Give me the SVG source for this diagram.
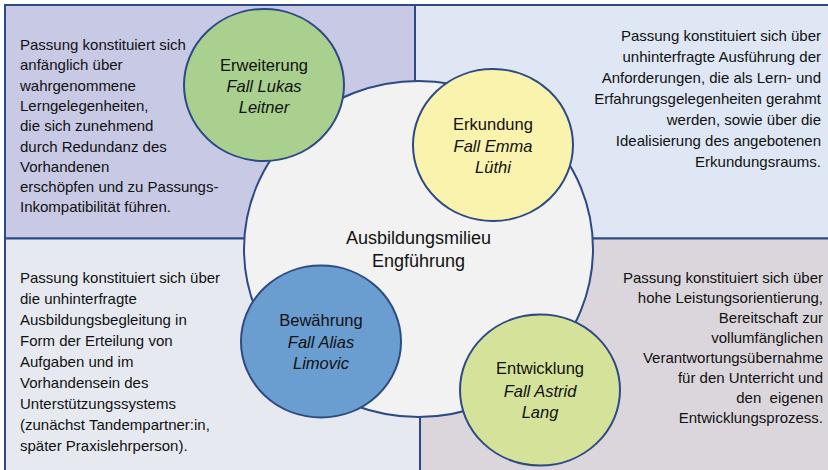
<svg xmlns="http://www.w3.org/2000/svg" width="828" height="470" viewBox="0 0 828 470">
<style>
.box{stroke:#2d4a85;stroke-width:2}
.circ{stroke:#2d4a85;stroke-width:2}
.t{font-family:"Liberation Sans",Arial,sans-serif;font-size:15px;fill:#111}
.r{text-anchor:end}
.lbl{font-family:"Liberation Sans",Arial,sans-serif;font-size:16.5px;fill:#111;text-anchor:middle}
.it{font-style:italic}
.ctr{font-family:"Liberation Sans",Arial,sans-serif;font-size:18px;fill:#111;text-anchor:middle}
</style>
<rect width="828" height="470" fill="#ffffff"/>
<g id="quadrant-top-left">
<rect class="box" x="5" y="5" width="410" height="233.5" fill="#c8c9e5"/>
<text class="t" x="20" y="50">Passung konstituiert sich</text>
<text class="t" x="20" y="70.3">anfänglich über</text>
<text class="t" x="20" y="90.6">wahrgenommene</text>
<text class="t" x="20" y="110.9">Lerngelegenheiten,</text>
<text class="t" x="20" y="131.2">die sich zunehmend</text>
<text class="t" x="20" y="151.5">durch Redundanz des</text>
<text class="t" x="20" y="171.8">Vorhandenen</text>
<text class="t" x="20" y="192.1">erschöpfen und zu Passungs-</text>
<text class="t" x="20" y="212.4">Inkompatibilität führen.</text>
</g>
<g id="quadrant-top-right">
<rect class="box" x="415" y="5" width="420" height="233.5" fill="#dfe7f4"/>
<text class="t r" x="821" y="40.7">Passung konstituiert sich über</text>
<text class="t r" x="821" y="61.7">unhinterfragte Ausführung der</text>
<text class="t r" x="821" y="82.7">Anforderungen, die als Lern- und</text>
<text class="t r" x="821" y="103.7">Erfahrungsgelegenheiten gerahmt</text>
<text class="t r" x="821" y="124.7">werden, sowie über die</text>
<text class="t r" x="821" y="145.7">Idealisierung des angebotenen</text>
<text class="t r" x="821" y="166.7">Erkundungsraums.</text>
</g>
<g id="quadrant-bottom-left">
<rect class="box" x="5" y="238.5" width="415" height="240" fill="#e6e9f0"/>
<text class="t" x="20" y="283.3">Passung konstituiert sich über</text>
<text class="t" x="20" y="304.3">die unhinterfragte</text>
<text class="t" x="20" y="325.3">Ausbildungsbegleitung in</text>
<text class="t" x="20" y="346.3">Form der Erteilung von</text>
<text class="t" x="20" y="367.3">Aufgaben und im</text>
<text class="t" x="20" y="388.3">Vorhandensein des</text>
<text class="t" x="20" y="409.3">Unterstützungssystems</text>
<text class="t" x="20" y="430.3">(zunächst Tandempartner:in,</text>
<text class="t" x="20" y="451.3">später Praxislehrperson).</text>
</g>
<g id="quadrant-bottom-right">
<rect class="box" x="420" y="238.5" width="420" height="240" fill="#dbd6db"/>
<text class="t r" x="823" y="283.3">Passung konstituiert sich über</text>
<text class="t r" x="823" y="303.3">hohe Leistungsorientierung,</text>
<text class="t r" x="823" y="323.3">Bereitschaft zur</text>
<text class="t r" x="823" y="343.3">vollumfänglichen</text>
<text class="t r" x="823" y="363.3">Verantwortungsübernahme</text>
<text class="t r" x="823" y="383.3">für den Unterricht und</text>
<text class="t r" x="823" y="403.3" style="white-space:pre">den  eigenen</text>
<text class="t r" x="823" y="423.3">Entwicklungsprozess.</text>
</g>
<g id="center-milieu">
<ellipse class="circ" cx="418.5" cy="249" rx="174.5" ry="168" fill="#f2f2f2"/>
<text class="ctr" x="418.5" y="244">Ausbildungsmilieu</text>
<text class="ctr" x="418.5" y="267">Engführung</text>
</g>
<g id="node-erweiterung">
<ellipse class="circ" cx="264" cy="85" rx="80" ry="76" fill="#a9d08e"/>
<text class="lbl" x="264" y="71">Erweiterung</text>
<text class="lbl it" x="264" y="92">Fall Lukas</text>
<text class="lbl it" x="264" y="113">Leitner</text>
</g>
<g id="node-erkundung">
<ellipse class="circ" cx="493" cy="145" rx="80" ry="76" fill="#faf3ad"/>
<text class="lbl" x="493" y="130">Erkundung</text>
<text class="lbl it" x="493" y="152">Fall Emma</text>
<text class="lbl it" x="493" y="173">Lüthi</text>
</g>
<g id="node-bewaehrung">
<ellipse class="circ" cx="321" cy="341.5" rx="80" ry="76" fill="#6a9dd0"/>
<text class="lbl" x="321" y="326">Bewährung</text>
<text class="lbl it" x="321" y="347.5">Fall Alias</text>
<text class="lbl it" x="321" y="369">Limovic</text>
</g>
<g id="node-entwicklung">
<ellipse class="circ" cx="540" cy="390" rx="80" ry="75.5" fill="#d4e29a"/>
<text class="lbl" x="540" y="374">Entwicklung</text>
<text class="lbl it" x="540" y="397">Fall Astrid</text>
<text class="lbl it" x="540" y="418">Lang</text>
</g>
<g id="connectors"></g>
</svg>
